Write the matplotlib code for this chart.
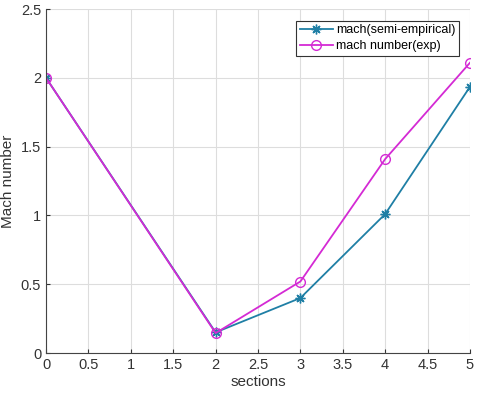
import matplotlib
matplotlib.use("Agg")
import matplotlib.pyplot as plt

plt.rcParams['font.family'] = ['Liberation Sans', 'DejaVu Sans']

sections = [0, 2, 3, 4, 5]
mach_semi = [2.0, 0.15, 0.40, 1.01, 1.935]
mach_exp = [2.0, 0.145, 0.52, 1.41, 2.11]

fig = plt.figure(figsize=(4.8, 3.98), dpi=100)
ax = fig.add_axes([0.096, 0.113, 0.883, 0.864])

ax.plot(sections, mach_semi, color="#1f7fa5", marker=(8, 2, 0), markersize=7, linewidth=1.3,
        label="mach(semi-empirical)")
ax.plot(sections, mach_exp, color="#d42ad4", marker="o", markersize=7, markerfacecolor="none",
        linewidth=1.3, label="mach number(exp)")

ax.set_xlim(0, 5)
ax.set_ylim(0, 2.5)
ax.set_xticks([0, 0.5, 1, 1.5, 2, 2.5, 3, 3.5, 4, 4.5, 5])
ax.set_xticklabels(["0", "0.5", "1", "1.5", "2", "2.5", "3", "3.5", "4", "4.5", "5"])
ax.set_yticks([0, 0.5, 1, 1.5, 2, 2.5])
ax.set_yticklabels(["0", "0.5", "1", "1.5", "2", "2.5"])
ax.set_xlabel("sections", fontsize=11, color="#333333", labelpad=2)
ax.set_ylabel("Mach number", fontsize=11, color="#333333", labelpad=4)
ax.tick_params(labelsize=10.5, colors="#333333", direction="in", length=3)
ax.grid(True, color="#dddddd", linewidth=0.8)
for s in ["top", "right"]:
    ax.spines[s].set_visible(False)
for s in ["left", "bottom"]:
    ax.spines[s].set_color("#444444")

leg = ax.legend(loc="upper right", fontsize=9, fancybox=False, framealpha=1,
                edgecolor="#333333", borderpad=0.3, handlelength=2.6, handletextpad=0.3,
                labelspacing=0.3, bbox_to_anchor=(0.99, 0.985))
leg.get_frame().set_linewidth(0.8)

fig.savefig("out.png", dpi=100)
